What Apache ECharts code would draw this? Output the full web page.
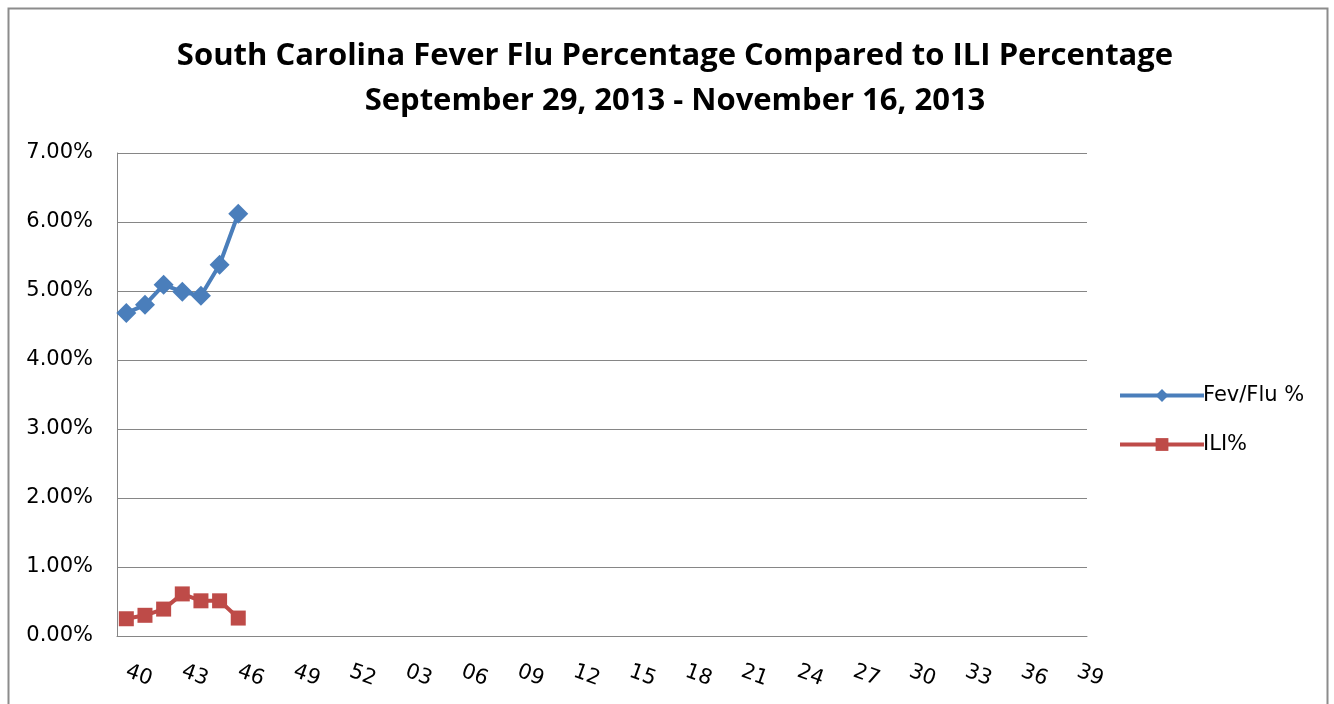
<!DOCTYPE html>
<html>
<head>
<meta charset="utf-8">
<script src="https://cdn.jsdelivr.net/npm/echarts@6/dist/echarts.min.js"></script>
<style>
  html, body { margin: 0; padding: 0; background: #fff; }
  #chart { width: 1334px; height: 704px; }
</style>
</head>
<body>
<div id="chart"></div>
<script>
// week numbers, season week 40 through week 39
var weeks = ["40","41","42","43","44","45","46","47","48","49","50","51","52",
  "01","02","03","04","05","06","07","08","09","10","11","12","13","14","15","16",
  "17","18","19","20","21","22","23","24","25","26","27","28","29","30","31","32",
  "33","34","35","36","37","38","39"];
var fevFlu = [4.68, 4.80, 5.09, 4.99, 4.93, 5.38, 6.12];
var ili = [0.25, 0.30, 0.39, 0.61, 0.51, 0.51, 0.26];

var titleFont = "'Open Sans', sans-serif";
var font = "'DejaVu Sans', sans-serif";
var myChart = echarts.init(document.getElementById("chart"));
myChart.setOption({
  animation: false,
  //外框
  graphic: [{
    type: "rect",
    shape: { x: 8.5, y: 8.5, width: 1319, height: 720 },
    style: { fill: "none", stroke: "#8c8c8c", lineWidth: 2 }
  }],
  title: {
    text: "South Carolina Fever Flu Percentage Compared to ILI Percentage\nSeptember 29, 2013 - November 16, 2013",
    left: 670,
    textAlign: "center",
    top: 29,
    textStyle: {
      fontFamily: titleFont,
      fontSize: 31,
      fontWeight: "bold",
      color: "#000",
      lineHeight: 45
    }
  },
  grid: { left: 117, right: 247, top: 153, bottom: 68 },
  legend: {
    orient: "vertical",
    left: 1113,
    top: 380,
    itemGap: 28,
    itemWidth: 84,
    itemHeight: 16,
    lineStyle: { width: 4 },
    textStyle: { fontFamily: font, fontSize: 21, color: "#000", padding: [0, 0, 0, -6] },
    data: ["Fev/Flu %", "ILI%"]
  },
  xAxis: {
    type: "category",
    data: weeks,
    boundaryGap: true,
    axisLine: { lineStyle: { color: "#868686", width: 1 } },
    axisTick: { show: false },
    axisLabel: {
      interval: 2,
      rotate: -20,
      margin: 35,
      fontFamily: font,
      fontSize: 21,
      color: "#000"
    }
  },
  yAxis: {
    type: "value",
    min: 0,
    max: 7,
    interval: 1,
    axisLine: { show: true, lineStyle: { color: "#868686", width: 1 } },
    axisTick: { show: false },
    splitLine: { lineStyle: { color: "#868686", width: 1 } },
    axisLabel: {
      margin: 24,
      fontFamily: font,
      fontSize: 21,
      color: "#000",
      formatter: function (v) { return v.toFixed(2) + "%"; }
    }
  },
  series: [
    {
      name: "Fev/Flu %",
      type: "line",
      data: fevFlu,
      showAllSymbol: true,
      symbol: "diamond",
      symbolSize: 20,
      lineStyle: { color: "#4a7ebb", width: 4 },
      itemStyle: { color: "#4a7ebb" }
    },
    {
      name: "ILI%",
      type: "line",
      data: ili,
      showAllSymbol: true,
      symbol: "rect",
      symbolSize: 15,
      lineStyle: { color: "#be4b48", width: 4 },
      itemStyle: { color: "#be4b48" }
    }
  ]
});
</script>
</body>
</html>
